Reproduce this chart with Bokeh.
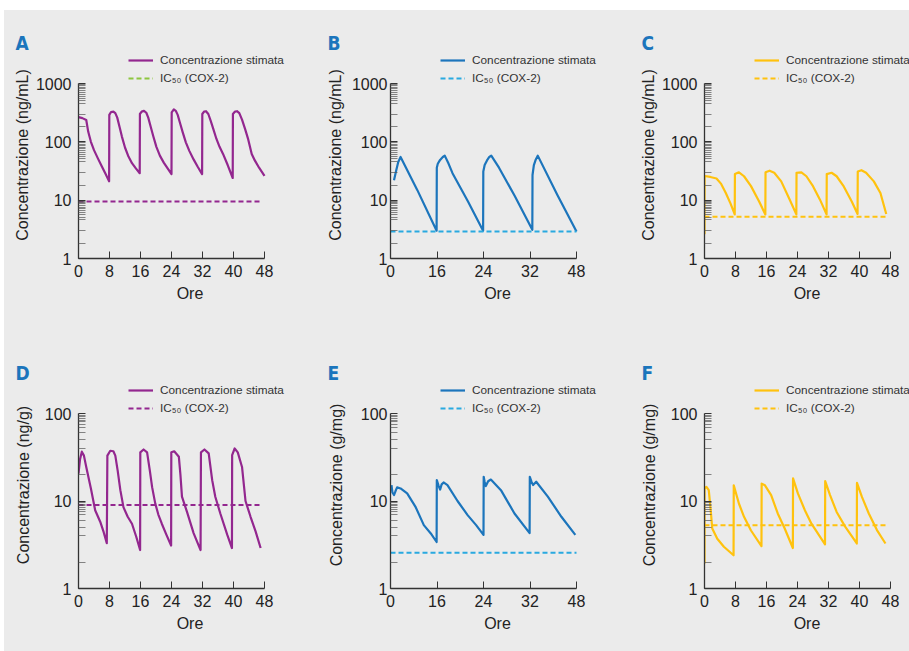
from bokeh.plotting import figure
from bokeh.models import (Range1d, FixedTicker, PrintfTickFormatter, Legend,
                          LegendItem, Spacer)
from bokeh.layouts import row, column
from bokeh.embed import file_html
from bokeh.resources import INLINE

# ---------------- data ----------------
LEGEND_CURVE = "Concentrazione stimata"
LEGEND_IC50 = "IC\u2085\u2080 (COX-2)"
X_LABEL = "Ore"
Y_LABEL_TOP = "Concentrazione (ng/mL)"
Y_LABEL_D = "Concentrazione (ng/g)"
Y_LABEL_EF = "Concentrazione (g/mg)"

X_TICKS = [0, 8, 16, 24, 32, 40, 48]
X_TICK_LABELS = ["0", "8", "16", "24", "32", "40", "48"]
X_TICKS_BE = [0, 12, 24, 36, 48]
X_TICK_LABELS_BE = ["0", "16", "24", "32", "48"]
Y_TICKS_TOP = [1, 10, 100, 1000]
Y_TICKS_BOTTOM = [1, 10, 100]

A_ore = [0, 1.0, 2.0, 2.5, 3.2, 4.0, 5.0, 6.0, 7.0, 7.9,
         7.95, 8.4, 9.0, 9.5, 10.0, 10.6, 11.2, 12.0, 12.8, 13.8, 14.8, 15.8,
         15.85, 16.3, 16.9, 17.5, 18.0, 18.6, 19.3, 20.1, 21.0, 22.0, 23.0, 24.0,
         24.05, 24.6, 25.1, 25.6, 26.2, 26.9, 27.7, 28.6, 29.7, 30.8, 31.9,
         31.95, 32.4, 32.9, 33.5, 34.1, 34.8, 35.6, 36.4, 37.3, 38.5, 39.8,
         39.85, 40.4, 40.9, 41.5, 42.2, 43.0, 43.8, 44.7, 45.5, 46.6, 48.0]
A_conc = [265, 255, 237, 150, 100, 72, 52, 38, 28, 21,
          290, 325, 330, 310, 260, 180, 123, 80, 58, 43, 35, 29,
          300, 330, 340, 315, 260, 185, 125, 82, 58, 44, 35, 28,
          320, 360, 340, 290, 210, 145, 98, 70, 50, 37, 28,
          300, 330, 335, 300, 230, 165, 112, 82, 62, 40, 24,
          300, 330, 335, 310, 240, 165, 110, 62, 48, 36, 26]
A_ic50 = 9.5

B_ore = [0.9, 1.5, 2.0, 2.6, 6.9, 11.9,
         11.95, 12.2, 12.8, 13.5, 14.0, 15.0, 16.0, 20.0, 23.9,
         23.95, 24.3, 24.9, 25.5, 26.0, 28.0, 32.0, 36.6,
         36.65, 37.0, 37.5, 38.0, 43.0, 48.0]
B_conc = [22, 33, 45, 55, 15, 3.0,
          36, 42, 49, 55, 58, 42, 29, 9.5, 3.0,
          31, 40, 48, 55, 58, 36, 12, 3.1,
          27, 40, 50, 58, 12.5, 2.9]
B_ic50 = 2.9

C_ore = [0, 0.02, 1.5, 3.1, 4.3, 5.5, 6.7, 7.8,
         7.85, 8.9, 10.2, 12.0, 14.1, 15.7,
         15.75, 16.8, 18.0, 19.8, 22.0, 23.7,
         23.75, 25.0, 26.3, 28.0, 29.8, 31.5,
         31.55, 32.8, 34.1, 35.8, 38.0, 39.5,
         39.55, 40.5, 41.7, 43.7, 45.4, 46.9]
C_conc = [2.6, 26, 25, 23.5, 19, 13.3, 8.8, 5.7,
          28, 30, 25.7, 17.4, 9.5, 5.7,
          30, 32, 29.5, 21, 10.2, 5.7,
          29.5, 30, 25.7, 17.4, 10.2, 5.7,
          28, 29.5, 25.7, 17.8, 9.5, 5.8,
          31, 32.6, 29.5, 21, 13.3, 5.8]
C_ic50 = 5.2

D_ore = [0, 0.4, 0.86, 1.4, 2.0, 3.2, 4.3, 5.6, 6.5, 7.3,
         7.45, 8.2, 9.0, 9.5, 10.1, 10.8, 11.6, 12.7, 13.8, 14.9, 15.9,
         15.95, 16.8, 17.7, 18.4, 19.0, 19.8, 20.6, 21.5, 22.7, 23.9,
         23.95, 24.7, 25.9, 26.3, 26.7, 28.0, 29.7, 31.5,
         31.6, 32.5, 33.6, 34.5, 35.3, 36.6, 38.4, 39.6,
         39.65, 40.3, 41.1, 42.2, 43.1, 44.4, 45.7, 47.0]
D_conc = [20.6, 30, 36.6, 33, 24.5, 13.9, 7.85, 5.8, 4.4, 3.3,
          33, 37.5, 37, 33, 22.4, 13.3, 8.5, 6.6, 5.5, 3.9, 2.75,
          36, 38.8, 36, 22.4, 14.4, 9.4, 7.0, 5.5, 4.1, 3.1,
          36, 37, 32, 20, 11.2, 7.5, 4.3, 2.75,
          36, 38.8, 35, 17.3, 11.2, 7.2, 4.1, 2.9,
          33.4, 39.8, 36, 24.5, 10, 6.6, 4.5, 2.9]
D_ic50 = 9.0

E_ore = [0.26, 0.5, 0.9, 1.3, 1.7, 2.6, 4.3, 6.5, 8.6, 10.4, 11.9,
         11.95, 12.4, 12.8, 13.2, 13.7, 14.7, 17.3, 19.9, 22.1, 24.0,
         24.05, 24.3, 24.6, 25.2, 25.9, 28.5, 32.0, 35.9,
         35.95, 36.4, 36.8, 37.6, 40.6, 44.1, 47.7]
E_conc = [15.2, 12.5, 11.7, 13.0, 14.3, 13.9, 12.2, 8.5, 5.3, 4.26, 3.4,
          17.3, 15, 13.5, 15.5, 16.3, 15.2, 10, 6.9, 5.3, 4.1,
          18.9, 16.5, 14.8, 16.8, 17.6, 13.3, 7.2, 4.3,
          18.9, 16.5, 15.2, 16.6, 11.2, 6.6, 4.1]
E_ic50 = 2.56

F_ore = [0, 0.02, 0.5, 1.1, 1.6, 2.0, 3.3, 5.0, 7.5,
         7.55, 8.9, 10.2, 12.0, 14.7,
         14.75, 15.6, 17.2, 18.9, 20.7, 22.8,
         22.85, 24.1, 25.9, 27.6, 31.1,
         31.15, 32.4, 34.1, 36.3, 39.3,
         39.35, 40.6, 42.4, 44.5, 46.7]
F_conc = [1.93, 13.9, 14.5, 13.3, 7.85, 4.85, 3.7, 3.0, 2.4,
          15.1, 9.3, 6.6, 4.6, 3.05,
          15.8, 15.1, 11.7, 7.2, 4.85, 2.9,
          18.1, 12.2, 7.85, 5.5, 3.2,
          16.9, 11.7, 7.5, 5.1, 3.27,
          16.1, 11.2, 7.2, 4.65, 3.27]
F_ic50 = 5.3

# ---------------- styles / layout ----------------
BG = "#ebebeb"
PURPLE = "#93278f"
BLUE = "#1c75bc"
CYAN = "#29a9e0"
YELLOW = "#ffc20e"
GREEN = "#8dc63f"
LETTER = "#1b75bc"
FONT = "Liberation Sans"
LETTER_FONT = "DejaVu Sans Condensed, Roboto, sans-serif"
INK = "#222222"
AXIS_W = 186.0       # pixels from 0 h to 48 h
AXIS_H = 175.0       # pixels of the bounded y axis
EXTRA_TOP = 32.0     # frame pixels above the top tick (room for legend)


def minor_ticks(decades, mults):
    out = []
    for d in decades:
        for m in mults:
            out.append(d * m)
    return out


MULT_TOP = [1.8, 3.0, 4.6, 5.1, 5.6, 6.1, 6.6, 7.1, 7.6, 8.1, 8.6, 9.1, 9.6]
MULT_BOTTOM = [2, 4, 5, 6, 7, 7.5, 8.0, 8.4, 8.8, 9.2, 9.6]


def panel(letter, ore, conc, ic50, ic_end, y_max, y_label, line_color, ic_color,
          leg_ic_color, width, left, right, height, top, bottom, xticks, xlabels,
          ytick_standoff, ylabel_standoff, yticks, mults):
    frame_w = width - left - right
    x_max = 48.0 * frame_w / AXIS_W
    n_dec = len(yticks) - 1
    y_top = y_max * 10 ** (EXTRA_TOP * n_dec / AXIS_H)
    p = figure(width=width, height=height, x_range=Range1d(0, x_max),
               y_range=Range1d(1, y_top), y_axis_type="log",
               output_backend="svg", toolbar_location=None,
               min_border_left=left, min_border_right=right,
               min_border_top=top, min_border_bottom=bottom)
    p.background_fill_color = BG
    p.border_fill_color = BG
    p.outline_line_color = None
    p.grid.visible = False

    r_curve = p.line(ore, conc, line_color=line_color, line_width=2.2,
                     line_join="round")
    r_ic = p.line([0, ic_end], [ic50, ic50], line_color=ic_color,
                  line_width=2, line_dash="5 3")
    if leg_ic_color != ic_color:
        # legend swatch only (the reference shows a differently coloured key)
        r_leg = p.line([0, ic_end], [ic50, ic50], line_color=leg_ic_color,
                       line_width=2, line_dash="5 3", visible=False)
    else:
        r_leg = r_ic

    xa = p.xaxis[0]
    xa.bounds = (0, 48)
    xa.ticker = FixedTicker(ticks=xticks, minor_ticks=[])
    xa.major_label_overrides = {t: lab for t, lab in zip(xticks, xlabels)}
    xa.axis_label = X_LABEL
    xa.major_tick_in = 7
    xa.major_tick_out = 0
    xa.minor_tick_line_color = None
    xa.major_label_standoff = 6
    xa.axis_label_standoff = 5

    ya = p.yaxis[0]
    ya.bounds = (1, y_max)
    decades = yticks[:-1]
    ya.ticker = FixedTicker(ticks=yticks, minor_ticks=minor_ticks(decades, mults))
    ya.formatter = PrintfTickFormatter(format="%d")
    ya.axis_label = y_label
    ya.major_tick_in = 7
    ya.major_tick_out = 0
    ya.minor_tick_in = 7
    ya.minor_tick_out = 0
    ya.major_label_standoff = ytick_standoff
    ya.axis_label_standoff = ylabel_standoff

    for ax in (xa, ya):
        ax.axis_line_color = "#333333"
        ax.axis_line_width = 1.3
        ax.major_tick_line_color = "#333333"
        ax.major_tick_line_width = 1
        ax.major_label_text_font = FONT
        ax.major_label_text_font_size = "16px"
        ax.major_label_text_color = INK
        ax.axis_label_text_font = FONT
        ax.axis_label_text_font_size = "16px"
        ax.axis_label_text_font_style = "normal"
        ax.axis_label_text_color = INK
    ya.minor_tick_line_color = "#555555"
    ya.minor_tick_line_width = 0.7

    legend = Legend(items=[LegendItem(label=LEGEND_CURVE, renderers=[r_curve]),
                           LegendItem(label=LEGEND_IC50, renderers=[r_leg])],
                    location=(50, AXIS_H - 2), orientation="vertical",
                    padding=0, margin=0, spacing=4, glyph_width=25,
                    glyph_height=14, label_height=14, label_standoff=7,
                    label_text_font=FONT, label_text_font_size="11.8px",
                    label_text_color="#333333", background_fill_alpha=0,
                    border_line_alpha=0, inactive_fill_alpha=0)
    p.add_layout(legend)

    p.title.text = letter
    p.title.align = "left"
    p.title.offset = -63
    p.title.standoff = -4
    p.title.text_font = LETTER_FONT
    p.title.text_font_style = "bold"
    p.title.text_font_size = "19px"
    p.title.text_color = LETTER
    return p


TOP = dict(height=315, top=41, bottom=67, y_max=1000, yticks=Y_TICKS_TOP,
           mults=MULT_TOP)
BOT = dict(height=326, top=56, bottom=63, y_max=100, yticks=Y_TICKS_BOTTOM,
           mults=MULT_BOTTOM)

pA = panel("A", A_ore, A_conc, A_ic50, 47, y_label=Y_LABEL_TOP,
           line_color=PURPLE, ic_color=PURPLE, leg_ic_color=GREEN,
           width=299, left=74, right=2, xticks=X_TICKS, xlabels=X_TICK_LABELS,
           ytick_standoff=7, ylabel_standoff=2, **TOP)
pB = panel("B", B_ore, B_conc, B_ic50, 48, y_label=Y_LABEL_TOP,
           line_color=BLUE, ic_color=CYAN, leg_ic_color=CYAN,
           width=303, left=87, right=2, xticks=X_TICKS_BE,
           xlabels=X_TICK_LABELS_BE, ytick_standoff=3, ylabel_standoff=5, **TOP)
pC = panel("C", C_ore, C_conc, C_ic50, 47, y_label=Y_LABEL_TOP,
           line_color=YELLOW, ic_color=YELLOW, leg_ic_color=YELLOW,
           width=303, left=98, right=0, xticks=X_TICKS, xlabels=X_TICK_LABELS,
           ytick_standoff=7, ylabel_standoff=2, **TOP)
pD = panel("D", D_ore, D_conc, D_ic50, 47, y_label=Y_LABEL_D,
           line_color=PURPLE, ic_color=PURPLE, leg_ic_color=PURPLE,
           width=299, left=74, right=2, xticks=X_TICKS, xlabels=X_TICK_LABELS,
           ytick_standoff=7, ylabel_standoff=10, **BOT)
pE = panel("E", E_ore, E_conc, E_ic50, 48, y_label=Y_LABEL_EF,
           line_color=BLUE, ic_color=CYAN, leg_ic_color=CYAN,
           width=303, left=87, right=2, xticks=X_TICKS_BE,
           xlabels=X_TICK_LABELS_BE, ytick_standoff=3, ylabel_standoff=13, **BOT)
pF = panel("F", F_ore, F_conc, F_ic50, 47, y_label=Y_LABEL_EF,
           line_color=YELLOW, ic_color=YELLOW, leg_ic_color=YELLOW,
           width=303, left=98, right=0, xticks=X_TICKS, xlabels=X_TICK_LABELS,
           ytick_standoff=7, ylabel_standoff=10, **BOT)

inner = column(row(pA, pB, pC), row(pD, pE, pF),
               styles={"background-color": BG})
layout = column(Spacer(width=909, height=10),
                row(Spacer(width=4, height=641), inner))

open("out.html", "w").write(file_html(layout, INLINE))
